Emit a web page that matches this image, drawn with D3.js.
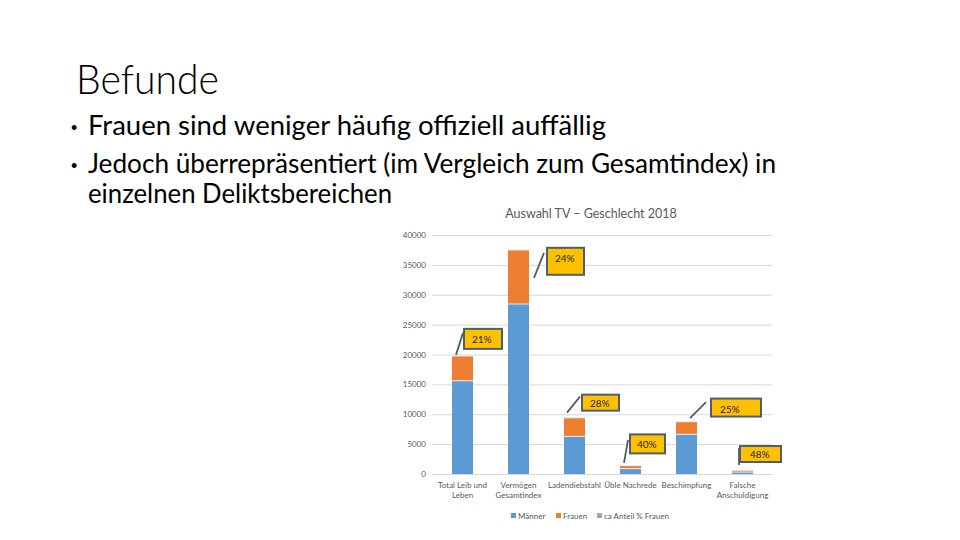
<!DOCTYPE html>
<html>
<head>
<meta charset="utf-8">
<script src="https://cdn.jsdelivr.net/npm/d3@7"></script>
<style>
  html, body { margin: 0; padding: 0; background: #fff; }
  svg { display: block; }
</style>
</head>
<body>
<svg id="slide" width="960" height="540"></svg>
<script>
// ---------- data ----------
const categories = ["Total Leib und Leben", "Vermögen Gesamtindex", "Ladendiebstahl", "Üble Nachrede", "Beschimpfung", "Falsche Anschuldigung"];
const categoryLines = [["Total Leib und", "Leben"], ["Vermögen", "Gesamtindex"], ["Ladendiebstahl"], ["Üble Nachrede"], ["Beschimpfung"], ["Falsche", "Anschuldigung"]];
const maenner = [15600, 28450, 6300, 900, 6650, 320];
const frauen = [4150, 9050, 3100, 500, 2100, 300];
const anteilFrauen = [21, 24, 28, 40, 25, 48];
const seriesNames = ["Männer", "Frauen", "ca Anteil % Frauen"];
const yTicks = [0, 5000, 10000, 15000, 20000, 25000, 30000, 35000, 40000];
const chartTitle = "Auswahl TV – Geschlecht 2018";
const slideTitle = "Befunde";
const bullets = [
  ["Frauen sind weniger häufig offiziell auffällig"],
  ["Jedoch überrepräsentiert (im Vergleich zum Gesamtindex) in", "einzelnen Deliktsbereichen"]
];

// ---------- styling / layout ----------
const colors = ["#5B9BD5", "#ED7D31", "#A5A5A5"];
const labelLayout = [
  {dx: 1.5, dy: -27, w: 38, h: 20, tx: 8, ty: 14, l: [-6.5, -1, 0.5, -23]},
  {dx: 28.5, dy: -2, w: 37, h: 27, tx: 8, ty: 14, l: [15.5, 28, 25.5, 3]},
  {dx: 7.5, dy: -23, w: 37, h: 16, tx: 8, ty: 12, l: [-7.5, -5, 5.5, -21]},
  {dx: -0.5, dy: -31, w: 35, h: 19, tx: 7, ty: 14, l: [-6.5, -2.5, -2.5, -25.5]},
  {dx: 24.5, dy: -23, w: 50, h: 18, tx: 9, ty: 14, l: [3.5, -3.5, 19.5, -19.5]},
  {dx: -2.5, dy: -24, w: 41, h: 16, tx: 10, ty: 12, l: [-3.5, -5, -3.5, -22]}
];

const svg = d3.select("#slide");

function fit(sel, width) {
  const node = sel.node();
  const len = node.getComputedTextLength();
  if (len > 0) sel.attr("textLength", width).attr("lengthAdjust", "spacingAndGlyphs");
  return sel;
}

// ---------- slide text ----------
const slideFont = "Lato, 'Open Sans', sans-serif";
fit(svg.append("text").attr("x", 76).attr("y", 94)
  .attr("font-family", slideFont).attr("font-weight", 300)
  .attr("font-size", 42).attr("fill", "#000").text(slideTitle), 143);

const bulletY = [[135], [173, 203]];
const bulletW = [[518], [688, 304]];
bullets.forEach((lines, i) => {
  svg.append("text").attr("x", 71).attr("y", bulletY[i][0] - 1)
    .attr("font-family", "Arial, sans-serif").attr("font-size", 18).attr("fill", "#000").text("•");
  lines.forEach((t, j) => {
    fit(svg.append("text").attr("x", 88).attr("y", bulletY[i][j])
      .attr("font-family", slideFont).attr("font-size", 27).attr("fill", "#000").text(t), bulletW[i][j]);
  });
});

// ---------- chart ----------
const chartFont = "Lato, 'Open Sans', sans-serif";
const x = d3.scaleBand().domain(categories).range([434.5, 770.5]).paddingInner(0.625).paddingOuter(0.3125);
const y = d3.scaleLinear().domain([0, 40000]).range([474, 235]);

svg.append("text").attr("x", 591).attr("y", 218).attr("text-anchor", "middle")
  .attr("font-family", chartFont).attr("font-size", 12.5).attr("fill", "#595959").text(chartTitle);

// gridlines
const yAxis = d3.axisLeft(y).tickValues(yTicks).tickSize(-(772 - 432)).tickFormat(d3.format("d")).tickPadding(6);
const gAxis = svg.append("g").attr("transform", "translate(432,0)").call(yAxis);
gAxis.select(".domain").remove();
gAxis.selectAll(".tick line").attr("stroke", "#D9D9D9").attr("stroke-width", 1);
gAxis.selectAll(".tick text").attr("font-family", chartFont).attr("font-size", 8).attr("fill", "#595959");

// stacked bars
const rows = categories.map((c, i) => ({cat: c, m: maenner[i], f: frauen[i], a: anteilFrauen[i]}));
const stacked = d3.stack().keys(["m", "f", "a"])(rows);
stacked.forEach((layer, k) => {
  svg.append("g").selectAll("rect").data(layer).join("rect")
    .attr("x", d => x(d.data.cat))
    .attr("width", x.bandwidth())
    .attr("y", d => y(d[1]))
    .attr("height", d => Math.max(0, y(d[0]) - y(d[1])))
    .attr("fill", colors[k]);
});
// thin white separators between stacked segments
stacked.slice(0, 2).forEach(layer => {
  svg.append("g").selectAll("line").data(layer).join("line")
    .attr("x1", d => x(d.data.cat)).attr("x2", d => x(d.data.cat) + x.bandwidth())
    .attr("y1", d => y(d[1])).attr("y2", d => y(d[1]))
    .attr("stroke", "#fff").attr("stroke-width", 0.8);
});

// data labels (callouts)
const topLayer = stacked[2];
topLayer.forEach((d, i) => {
  const cx = x(d.data.cat) + x.bandwidth() / 2;
  const ty = y(d[1]);
  const L = labelLayout[i];
  svg.append("line")
    .attr("x1", cx + L.l[0]).attr("y1", ty + L.l[1])
    .attr("x2", cx + L.l[2]).attr("y2", ty + L.l[3])
    .attr("stroke", "#4E5E6C").attr("stroke-width", 1.8);
  svg.append("rect")
    .attr("x", cx + L.dx).attr("y", ty + L.dy).attr("width", L.w).attr("height", L.h)
    .attr("fill", "#FFC000").attr("stroke", "#4E5E6C").attr("stroke-width", 2);
  svg.append("text")
    .attr("x", cx + L.dx + L.tx).attr("y", ty + L.dy + L.ty)
    .attr("font-family", chartFont).attr("font-size", 10).attr("fill", "#262626")
    .text(anteilFrauen[i] + "%");
});

// category labels
categories.forEach((c, i) => {
  const cx = x(c) + x.bandwidth() / 2;
  const t = svg.append("text").attr("text-anchor", "middle")
    .attr("font-family", chartFont).attr("font-size", 8).attr("fill", "#595959");
  categoryLines[i].forEach((ln, j) => {
    t.append("tspan").attr("x", cx).attr("y", 488 + j * 10).text(ln);
  });
});

// legend
const legendX = [511, 556, 597];
seriesNames.forEach((s, k) => {
  svg.append("rect").attr("x", legendX[k]).attr("y", 513).attr("width", 5).attr("height", 5).attr("fill", colors[k]);
  svg.append("text").attr("x", legendX[k] + 7).attr("y", 519)
    .attr("font-family", chartFont).attr("font-size", 8).attr("fill", "#595959").text(s);
});
</script>
</body>
</html>
